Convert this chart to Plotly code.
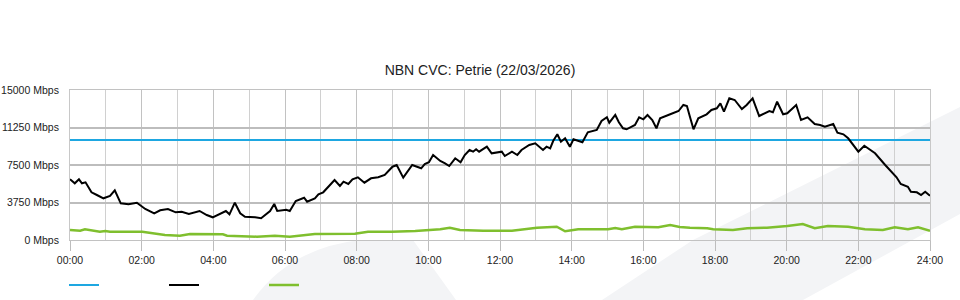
import plotly.graph_objects as go

# ---- data ----
title_text = "NBN CVC: Petrie (22/03/2026)"
hour_ticks = list(range(0, 25, 2))
hour_labels = [f"{h:02d}:00" for h in hour_ticks]
y_ticks = [0, 3750, 7500, 11250, 15000]
y_labels = [f"{v} Mbps" for v in y_ticks]

capacity_minutes = [0, 1440]
capacity_mbps = [10000, 10000]

download_minutes = [
    0, 8, 15, 20, 26, 36, 45, 56, 67, 75, 85, 98, 112, 119, 126, 141, 151, 164, 177, 187,
    199, 217, 229, 239, 254, 261, 267, 276, 285, 293, 310, 320, 335, 342, 347, 362, 368, 378,
    392, 397, 410, 416, 424, 432, 443, 452, 458, 466, 473, 482, 493, 504, 516, 527, 540, 547,
    558, 573, 588, 594, 601, 608, 620, 628, 635, 645, 654, 661, 669, 675, 680, 685, 698, 706,
    723, 728, 740, 749, 756, 769, 779, 792, 798, 804, 809, 816, 822, 829, 837, 843, 858, 867,
    882, 890, 899, 903, 913, 919, 926, 932, 946, 953, 960, 967, 975, 982, 988, 1005, 1019,
    1027, 1033, 1038, 1044, 1052, 1066, 1074, 1083, 1089, 1095, 1104, 1113, 1125, 1133, 1143,
    1154, 1171, 1177, 1184, 1194, 1201, 1216, 1224, 1235, 1247, 1256, 1264, 1278, 1285, 1295,
    1303, 1312, 1320, 1330, 1348, 1365, 1384, 1391, 1403, 1408, 1418, 1425, 1432, 1440,
]
download_mbps = [
    6070, 5670, 6070, 5670, 5770, 4770, 4500, 4170, 4400, 4970, 3670, 3570, 3730, 3430, 3100,
    2670, 2970, 3100, 2770, 2830, 2600, 2900, 2500, 2270, 2730, 2900, 2570, 3730, 2670, 2330,
    2270, 2170, 2900, 3600, 2900, 3030, 2900, 3900, 4230, 3830, 4170, 4570, 4770, 5330, 6000,
    5400, 5830, 5600, 6070, 6270, 5730, 6170, 6270, 6500, 7330, 7500, 6230, 7500, 7170, 7600,
    7770, 8500, 7900, 7670, 7400, 8170, 7770, 8500, 9000, 8830, 9070, 8830, 9330, 8670, 8830,
    8400, 8830, 8500, 9000, 9500, 9670, 9000, 9330, 9170, 9900, 10570, 9830, 10170, 9330,
    10070, 9770, 10770, 11000, 11900, 12270, 11730, 12500, 11770, 11170, 11070, 11500, 12270,
    12070, 12500, 12000, 11170, 12170, 12570, 12900, 13500, 13400, 12330, 11070, 12170, 12570,
    13000, 13170, 13670, 12830, 14170, 14000, 13100, 13500, 14170, 12400, 12900, 12770, 13830,
    12570, 12670, 13500, 12000, 12270, 11600, 11500, 11330, 11600, 10730, 10570, 10170, 9500,
    8830, 9430, 8670, 7500, 6270, 5600, 5330, 4830, 4770, 4500, 4830, 4430,
]

upload_minutes = [
    0, 17, 25, 50, 59, 67, 121, 131, 159, 184, 201, 256, 263, 313, 343, 368, 410, 477, 499,
    539, 578, 620, 636, 653, 692, 740, 782, 815, 829, 851, 901, 913, 924, 946, 985, 1005,
    1021, 1038, 1067, 1077, 1110, 1134, 1167, 1201, 1227, 1247, 1269, 1303, 1331, 1361, 1381,
    1403, 1420, 1440,
]
upload_mbps = [
    1000, 930, 1070, 830, 900, 830, 830, 730, 500, 430, 600, 570, 430, 330, 430, 330, 600,
    630, 830, 830, 900, 1070, 1230, 1000, 930, 930, 1230, 1330, 870, 1070, 1070, 1200, 1070,
    1330, 1270, 1500, 1300, 1230, 1170, 1070, 1000, 1170, 1230, 1400, 1600, 1170, 1400, 1330,
    1070, 1000, 1270, 1070, 1270, 930,
]

BLUE = "#1ea7e1"
BLACK = "#000000"
GREEN = "#7fbf2e"
WATERMARK = "#f3f4f6"

fig = go.Figure()
fig.add_trace(go.Scatter(x=[m / 60 for m in capacity_minutes], y=capacity_mbps, mode="lines",
                         name=" ", line=dict(color=BLUE, width=2.2)))
fig.add_trace(go.Scatter(x=[m / 60 for m in download_minutes], y=download_mbps, mode="lines",
                         name=" ", line=dict(color=BLACK, width=2)))
fig.add_trace(go.Scatter(x=[m / 60 for m in upload_minutes], y=upload_mbps, mode="lines",
                         name=" ", line=dict(color=GREEN, width=2.5)))

# plot area: x 70..930 px, y 90..240 px
def px(x):
    return (x - 70) / 860

def py(y):
    return (240 - y) / 150

blob = (f"M {px(253)},{py(300)} Q {px(290)},{py(248)} {px(360)},{py(240)} "
        f"L {px(413)},{py(240)} L {px(456)},{py(300)} Z")
band = (f"M {px(602)},{py(300)} L {px(693)},{py(240)} L {px(960)},{py(107)} "
        f"L {px(960)},{py(214)} L {px(803)},{py(300)} Z")
shapes = [
    dict(type="path", path=blob, xref="paper", yref="paper", fillcolor=WATERMARK,
         line=dict(width=0), layer="below"),
    dict(type="path", path=band, xref="paper", yref="paper", fillcolor=WATERMARK,
         line=dict(width=0), layer="below"),
]

fig.update_layout(
    width=960, height=300,
    margin=dict(l=70, r=30, t=90, b=60, autoexpand=False),
    paper_bgcolor="white", plot_bgcolor="rgba(0,0,0,0)",
    font=dict(family="Liberation Sans, Arial, sans-serif", size=10.5, color="#222"),
    title=dict(text=title_text, x=0.5, xref="container", xanchor="center",
               y=1 - 70 / 300, yref="container", yanchor="middle",
               font=dict(size=14, color="#222")),
    showlegend=True,
    legend=dict(orientation="h", x=-6 / 860, xanchor="left", y=py(285), yanchor="middle",
                entrywidth=55, entrywidthmode="pixels", itemwidth=30,
                font=dict(size=10), bgcolor="rgba(0,0,0,0)"),
    shapes=shapes,
    hovermode=False,
)

fig.update_xaxes(range=[0, 24], tickvals=hour_ticks, ticktext=hour_labels,
                 ticks="outside", ticklen=10, tickcolor="#bdbdbd",
                 showgrid=True, gridcolor="#c2c2c2", gridwidth=1,
                 minor=dict(dtick=1, showgrid=True, gridcolor="#d0d0d0", gridwidth=1),
                 showline=True, linecolor="#c2c2c2", linewidth=1, mirror=True,
                 zeroline=False, fixedrange=True, automargin=False)
fig.update_yaxes(range=[0, 15000], tickvals=y_ticks, ticktext=y_labels,
                 ticks="outside", ticklen=8, tickcolor="rgba(0,0,0,0)",
                 showgrid=True, gridcolor="#bdbdbd", gridwidth=1.5,
                 showline=True, linecolor="#c8c8c8", linewidth=1, mirror=True,
                 zeroline=False, fixedrange=True, automargin=False)

fig.write_html("out.html", config={"displayModeBar": False})
